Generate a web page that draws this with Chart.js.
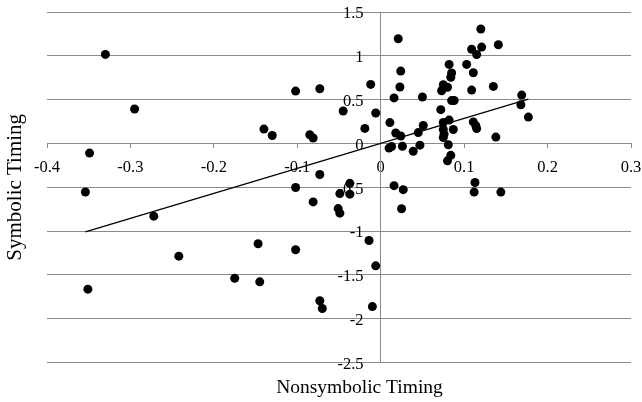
<!DOCTYPE html>
<html>
<head>
<meta charset="utf-8">
<script src="https://cdn.jsdelivr.net/npm/chart.js@4.4.0/dist/chart.umd.min.js"></script>
<style>
  html, body { margin: 0; padding: 0; background: #fff; }
  #wrap { width: 642px; height: 402px; position: relative; }
</style>
</head>
<body>
<div id="wrap"><canvas id="timingChart"></canvas></div>
<script>
// values
const nonsymbolic = [
  -0.330,-0.295,-0.102,-0.073,-0.140,-0.130,-0.085,-0.081,-0.349,-0.073,
  -0.354,-0.102,-0.081,-0.272,-0.147,-0.102,-0.242,-0.175,-0.145,-0.351,
  -0.073,-0.070,0.021,0.120,0.141,0.109,0.121,0.115,0.082,0.103,
  0.024,0.085,0.084,0.111,-0.012,0.023,0.075,0.073,0.080,0.135,
  0.109,0.016,0.050,0.085,0.088,0.169,0.168,-0.045,-0.006,0.072,
  0.177,0.011,0.051,-0.019,0.075,0.082,0.111,0.114,0.115,0.087,
  0.075,0.076,0.018,0.024,0.045,0.075,0.138,0.010,0.013,0.026,
  0.039,0.047,0.081,0.084,0.080,0.016,0.027,0.113,0.112,0.144,
  -0.037,-0.049,-0.037,-0.051,-0.049,0.025,-0.014,-0.006,-0.010
];
const symbolic = [
  1.016,0.393,0.598,0.624,0.164,0.091,0.099,0.062,-0.110,-0.354,
  -0.553,-0.502,-0.667,-0.829,-1.144,-1.213,-1.286,-1.537,-1.579,-1.662,
  -1.794,-1.883,1.195,1.306,1.127,1.075,1.100,1.015,0.902,0.902,
  0.826,0.804,0.756,0.807,0.674,0.644,0.670,0.602,0.642,0.651,
  0.609,0.520,0.530,0.489,0.490,0.552,0.442,0.370,0.348,0.386,
  0.301,0.238,0.205,0.172,0.240,0.267,0.246,0.202,0.170,0.160,
  0.160,0.107,0.119,0.085,0.124,0.068,0.073,-0.053,-0.034,-0.032,
  -0.089,-0.019,-0.015,-0.135,-0.198,-0.481,-0.527,-0.445,-0.555,-0.555,
  -0.455,-0.572,-0.578,-0.743,-0.795,-0.745,-1.107,-1.396,-1.861
];
const trendX = [-0.354, 0.177];
const trendY = [-1.008, 0.507];

const xTicks = [-0.4, -0.3, -0.2, -0.1, 0, 0.1, 0.2, 0.3];
const xTickLabels = ['-0.4', '-0.3', '-0.2', '-0.1', '0', '0.1', '0.2', '0.3'];
const yTicks = [-2.5, -2, -1.5, -1, -0.5, 0, 0.5, 1, 1.5];
const yTickLabels = ['-2.5', '-2', '-1.5', '-1', '-0.5', '0', '0.5', '1', '1.5'];

const serif = "'Liberation Serif', 'Times New Roman', serif";
const gridGray = '#8a8a8a';

// the crossing axes sit inside the plot, keep their labels from pushing the area in
function noPadding(scale) {
  scale.paddingLeft = 0;
  scale.paddingRight = 0;
  scale.paddingTop = 0;
  scale.paddingBottom = 0;
}

// x title sits a bit right of the plot centre in the original
const nudgeTitle = {
  id: 'nudgeTitle',
  afterLayout(chart) {
    chart.scales.x2.left += 41;
  }
};

const ctx = document.getElementById('timingChart');
new Chart(ctx, {
  type: 'scatter',
  data: {
    datasets: [{
      label: 'Trend',
      data: trendX.map((x, i) => ({ x: x, y: trendY[i] })),
      showLine: true,
      borderColor: '#000',
      borderWidth: 1.3,
      pointRadius: 0,
      fill: false,
      xAxisID: 'x',
      yAxisID: 'y'
    }, {
      label: 'Participants',
      data: nonsymbolic.map((x, i) => ({ x: x, y: symbolic[i] })),
      backgroundColor: '#000',
      borderWidth: 0,
      pointRadius: 4.5,
      pointHoverRadius: 4.5,
      xAxisID: 'x',
      yAxisID: 'y'
    }]
  },
  plugins: [nudgeTitle],
  options: {
    responsive: true,
    maintainAspectRatio: false,
    animation: false,
    events: [],
    layout: { padding: { top: 12, right: 11, bottom: 0, left: 0 } },
    plugins: { legend: { display: false }, tooltip: { enabled: false } },
    scales: {
      x: {
        type: 'linear',
        position: { y: 0 },
        min: -0.4, max: 0.3,
        afterBuildTicks: axis => { axis.ticks = xTicks.map(v => ({ value: v })); },
        afterFit: noPadding,
        grid: { drawOnChartArea: false, drawTicks: true, tickLength: 4, color: gridGray },
        border: { color: gridGray },
        ticks: {
          padding: 10,
          color: '#000',
          font: { family: serif, size: 16.5 },
          maxRotation: 0,
          callback: (v, i) => xTickLabels[i]
        }
      },
      y: {
        type: 'linear',
        position: { x: 0 },
        min: -2.5, max: 1.5,
        afterBuildTicks: axis => { axis.ticks = yTicks.map(v => ({ value: v })); },
        afterFit: noPadding,
        grid: { color: gridGray, drawTicks: false },
        border: { color: gridGray },
        ticks: { display: false }
      },
      // labels for the crossing y axis, set a little left of the axis line
      yLabels: {
        type: 'linear',
        axis: 'y',
        position: { x: -0.0205 },
        min: -2.5, max: 1.5,
        afterBuildTicks: axis => { axis.ticks = yTicks.map(v => ({ value: v })); },
        afterFit: noPadding,
        grid: { display: false, drawTicks: false },
        border: { display: false },
        ticks: {
          padding: 0,
          labelOffset: 2,
          color: '#000',
          font: { family: serif, size: 16.5 },
          callback: (v, i) => yTickLabels[i]
        }
      },
      x2: {
        type: 'linear',
        axis: 'x',
        position: 'bottom',
        min: -0.4, max: 0.3,
        afterFit: noPadding,
        grid: { display: false, drawTicks: false },
        border: { display: false },
        ticks: { display: false },
        title: {
          display: true,
          text: 'Nonsymbolic Timing',
          color: '#000',
          font: { family: serif, size: 19.5 },
          padding: { top: 14, bottom: 2 }
        }
      },
      y2: {
        type: 'linear',
        axis: 'y',
        position: 'left',
        min: -2.5, max: 1.5,
        afterFit: noPadding,
        grid: { display: false, drawTicks: false },
        border: { display: false },
        ticks: { display: false },
        title: {
          display: true,
          text: 'Symbolic Timing',
          color: '#000',
          font: { family: serif, size: 21 },
          padding: { top: 3, bottom: 18.8 }
        }
      }
    }
  }
});
</script>
</body>
</html>
